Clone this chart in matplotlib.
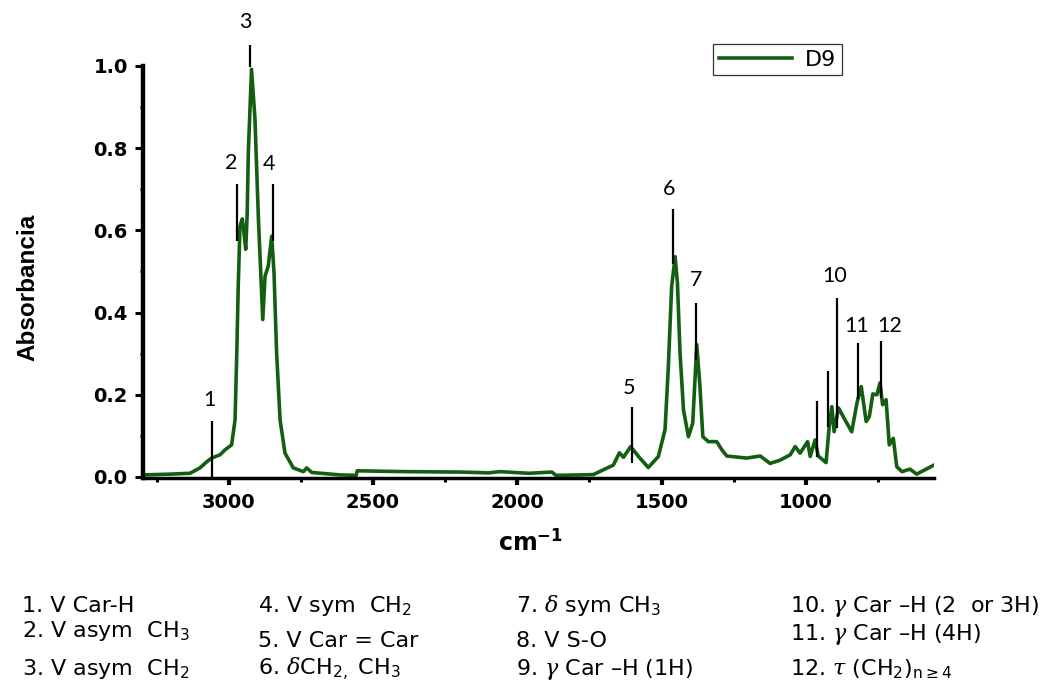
import matplotlib
matplotlib.use("Agg")
import matplotlib.pyplot as plt
from matplotlib.ticker import MultipleLocator

plt.rcParams['mathtext.fontset'] = 'custom'
plt.rcParams['mathtext.rm'] = 'DejaVu Sans'
plt.rcParams['mathtext.it'] = 'DejaVu Serif:italic'
plt.rcParams['mathtext.bf'] = 'DejaVu Sans:bold'

# spectrum of D9 (wavenumber cm-1, absorbance)
wavenumber = [3297, 3200, 3134, 3100, 3076, 3059, 3030, 3013, 2990, 2978,
              2972, 2967, 2961, 2953, 2948, 2941, 2936, 2932, 2921, 2909,
              2897, 2882, 2874, 2863, 2851, 2843, 2834, 2822, 2805, 2776,
              2741, 2730, 2712, 2614, 2558, 2555, 2383, 2198, 2100, 2060,
              1960, 1880, 1866, 1782, 1736, 1667, 1646, 1632, 1607, 1580,
              1546, 1511, 1488, 1477, 1465, 1453, 1445, 1436, 1424, 1407,
              1392, 1378, 1367, 1357, 1338, 1309, 1291, 1274, 1205, 1158,
              1124, 1089, 1054, 1037, 1020, 994, 985, 968, 957, 930,
              919, 910, 902, 887, 858, 841, 823, 808, 791, 780,
              768, 754, 743, 734, 722, 711, 697, 685, 667, 639,
              616, 556]
absorbance = [0.005, 0.007, 0.009, 0.022, 0.037, 0.046, 0.054, 0.066, 0.078, 0.139,
              0.302, 0.464, 0.610, 0.628, 0.600, 0.554, 0.640, 0.790, 0.992, 0.871,
              0.627, 0.383, 0.489, 0.513, 0.586, 0.497, 0.302, 0.139, 0.058, 0.022,
              0.013, 0.022, 0.011, 0.005, 0.004, 0.015, 0.013, 0.012, 0.010, 0.013,
              0.009, 0.012, 0.004, 0.005, 0.006, 0.029, 0.059, 0.048, 0.074, 0.050,
              0.023, 0.050, 0.115, 0.261, 0.464, 0.536, 0.472, 0.302, 0.163, 0.098,
              0.131, 0.322, 0.220, 0.098, 0.086, 0.086, 0.066, 0.051, 0.046, 0.051,
              0.033, 0.041, 0.054, 0.074, 0.058, 0.086, 0.050, 0.090, 0.051, 0.035,
              0.123, 0.171, 0.110, 0.168, 0.131, 0.110, 0.180, 0.220, 0.135, 0.147,
              0.202, 0.200, 0.229, 0.176, 0.188, 0.078, 0.094, 0.025, 0.013, 0.019,
              0.007, 0.029]

# peak marker lines
mark_x = [3057, 2972, 2926, 2847, 1602, 1462, 1379, 963, 923, 891, 819, 741]
mark_y0 = [0.0, 0.574, 0.997, 0.574, 0.033, 0.517, 0.285, 0.048, 0.121, 0.119, 0.190, 0.192]
mark_y1 = [0.135, 0.712, 1.050, 0.712, 0.170, 0.651, 0.424, 0.184, 0.257, 0.436, 0.326, 0.330]

# peak numbers
num_text = ['1', '2', '3', '4', '5', '6', '7', '10', '11', '12']
num_x = [3065, 2990, 2944, 2859, 1612, 1475, 1379, 899, 824, 709]
num_y = [0.188, 0.765, 1.107, 0.761, 0.216, 0.700, 0.480, 0.490, 0.367, 0.367]

# assignments below the chart
assign_col1 = ["1. V Car-H", r"2. V asym  CH$_\mathrm{3}$", r"3. V asym  CH$_\mathrm{2}$"]
assign_col2 = [r"4. V sym  CH$_\mathrm{2}$", "5. V Car = Car", r"6. $\delta$CH$_\mathrm{2 ,}$ CH$_\mathrm{3}$"]
assign_col3 = [r"7. $\delta$ sym CH$_\mathrm{3}$", "8. V S-O", r"9. $\gamma$ Car –H (1H)"]
assign_col4 = [r"10. $\gamma$ Car –H (2  or 3H)", r"11. $\gamma$ Car –H (4H)",
               r"12. $\tau$ (CH$_\mathrm{2}$)$_\mathrm{n\geq4}$"]

green = '#135e10'

fig = plt.figure(figsize=(10.64, 6.96), dpi=100)
ax = fig.add_axes([0.1344, 0.3135, 0.7434, 0.5917])

line, = ax.plot(wavenumber, absorbance, color=green, lw=2.6, label='D9')
ax.vlines(mark_x, mark_y0, mark_y1, color='black', lw=1.6, clip_on=False)
for t, x, y in zip(num_text, num_x, num_y):
    ax.text(x, y, t, ha='center', va='center', fontsize=15.5, family='Lato', clip_on=False)

ax.set_xlim(3297, 556)
ax.set_ylim(-0.002, 1.0)
ax.xaxis.set_major_locator(MultipleLocator(500))
ax.xaxis.set_minor_locator(MultipleLocator(250))
ax.yaxis.set_major_locator(MultipleLocator(0.2))
ax.yaxis.set_minor_locator(MultipleLocator(0.1))
ax.yaxis.set_major_formatter(matplotlib.ticker.FormatStrFormatter('%.1f'))

for s in ['top', 'right']:
    ax.spines[s].set_visible(False)
ax.spines['left'].set_linewidth(3.2)
ax.spines['bottom'].set_linewidth(2.5)
ax.tick_params(axis='x', which='major', direction='out', length=5, width=3, pad=6)
ax.tick_params(axis='x', which='minor', direction='out', length=3, width=2.2)
ax.tick_params(axis='y', which='major', direction='out', length=6, width=2.2, pad=5)
ax.tick_params(axis='y', which='minor', direction='out', length=2.5, width=2)
for lab in ax.get_xticklabels() + ax.get_yticklabels():
    lab.set_fontweight('bold')
    lab.set_fontsize(14)
    lab.set_family('DejaVu Sans')

fig.text(28 / 1064, 1 - 287 / 696, 'Absorbancia', rotation=90, ha='center', va='center',
         fontsize=17.5, fontweight='bold', family='Liberation Sans')
fig.text(530 / 1064, 1 - 551 / 696, r'$\mathbf{cm}^{\mathbf{-1}}$', ha='center', va='baseline',
         fontsize=17)

leg = fig.legend(handles=[line], loc='upper left', bbox_to_anchor=(713 / 1064, 1 - 44 / 696),
                 borderaxespad=0, frameon=True, fancybox=False, edgecolor='black',
                 fontsize=16, handlelength=3.3, handletextpad=0.6, borderpad=0.25)
leg.get_frame().set_linewidth(0.9)

col_x = [22, 258, 516, 790]
row_y = [[612, 637, 675], [612, 647, 675], [612, 647, 675], [612, 640, 675]]
for cx, ry, col in zip(col_x, row_y, [assign_col1, assign_col2, assign_col3, assign_col4]):
    for y, t in zip(ry, col):
        fig.text(cx / 1064, 1 - y / 696, t, ha='left', va='baseline', fontsize=16,
                 family='DejaVu Sans')

fig.savefig('out.png', dpi=100)
